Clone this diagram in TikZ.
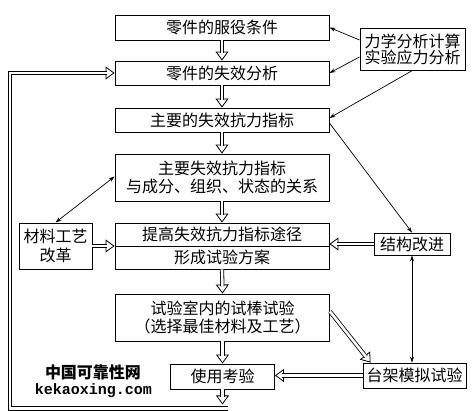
\documentclass[tikz,border=0pt]{standalone}
\usepackage{fontspec}
\newfontfamily\cjk{Noto Sans CJK SC}
\newfontfamily\wmmono{Liberation Mono}
\usetikzlibrary{arrows.meta,calc}
\newcommand\harrow[2]{%
  \draw[hhead] ($(#2)!9pt!(#1)$) -- (#2);
  \draw[hshaft] (#1) -- ($(#2)!7.5pt!(#1)$);
}
\begin{document}
\begin{tikzpicture}[x=1pt,y=-1pt,
  box/.style={draw, line width=0.9pt, inner sep=0pt, align=center,
    font=\cjk\fontsize{16}{18}\selectfont},
  txt/.style={inner sep=0pt, font=\cjk\fontsize{16}{18}\selectfont},
  thin/.style={line width=0.7pt, -{Stealth[length=6pt,width=4pt]}},
  thinboth/.style={line width=0.7pt, {Stealth[length=6pt,width=4pt]}-{Stealth[length=6pt,width=4pt]}},
  hshaft/.style={double, double distance=2.6pt, line width=0.8pt},
  hhead/.style={line width=0.8pt, -{Triangle[fill=white,length=9pt,width=13pt]}},
]
\useasboundingbox (0,0) rectangle (474,411);

% main column
\node[box, minimum width=214pt, minimum height=25pt] (b1) at (222,27.5) {零件的服役条件};
\node[box, minimum width=214pt, minimum height=24pt] (b2) at (222,73) {零件的失效分析};
\node[box, minimum width=214pt, minimum height=24pt] (b3) at (222,120) {主要的失效抗力指标};
\node[box, minimum width=214pt, minimum height=47pt] (b4) at (222,177.5) {主要失效抗力指标\\与成分、组织、状态的关系};
\node[box, minimum width=214pt, minimum height=46pt] (b5) at (222,246) {};
\draw[line width=0.9pt] (b5.west) -- (b5.east);
\node[txt] (b5a) at ($(b5.north)!0.25!(b5.south)$) {提高失效抗力指标途径};
\node[txt] (b5b) at ($(b5.north)!0.75!(b5.south)$) {形成试验方案};
\node[box, minimum width=214pt, minimum height=47pt] (b6) at (222.5,317.5) {试验室内的试棒试验\\（选择最佳材料及工艺）};
\node[box, minimum width=104pt, minimum height=25pt] (b7) at (222.5,376.5) {使用考验};

% side boxes
\node[box, minimum width=73pt, minimum height=46pt, font=\cjk\fontsize{16}{19}\selectfont] (m) at (55.5,246) {材料工艺\\改革};
\node[box, minimum width=105pt, minimum height=42pt, font=\cjk\fontsize{16}{16}\selectfont] (R1) at (412.5,49) {力学分析计算\\实验应力分析};
\node[box, minimum width=76pt, minimum height=22pt] (R2) at (412,244) {结构改进};
\node[box, minimum width=103pt, minimum height=25pt] (R3) at (414.5,375.5) {台架模拟试验};

% watermark text
\node[inner sep=0pt, font=\cjk\bfseries\fontsize{16}{18}\selectfont] (wm1) at (93,372) {中国可靠性网};
\node[inner sep=0pt, font=\wmmono\bfseries\fontsize{15}{18}\selectfont] (wm2) at (93.5,391) {kekaoxing.com};

% hollow arrows down the column
\harrow{b1.south}{b2.north}
\harrow{b2.south}{b3.north}
\harrow{b3.south}{b4.north}
\harrow{b4.south}{b5.north}
\harrow{b5.south}{b6.north}
\harrow{b6.south}{b7.north}
\coordinate (bt) at (222.5,404.5);
\harrow{b7.south}{bt}

% feedback loop
\coordinate (L0) at (228,408.5);
\coordinate (L1) at (10,408.5);
\coordinate (L2) at (10,73);
\draw[hhead] ($(b2.west)+(-9,0)$) -- (b2.west);
\draw[hshaft] (L0) -- (L1) -- (L2) -- ($(b2.west)+(-7.5,0)$);

% side hollow arrows
\harrow{m.east}{m.east -| b5.west}
\harrow{R2.west}{R2.west -| b5.east}
\harrow{$(b6.east)+(0,-6)$}{$(R3.north west)+(8,0)$}
\harrow{R3.west}{R3.west -| b7.east}

% thin arrows
\draw[thin] ($(R1.west)+(0,-9)$) -- (b1.east);
\draw[thin] ($(R1.west)+(0,8)$) -- (b2.east);
\draw[thin] (R1.south) -- ($(b3.east)+(0,-2)$);
\draw[thin] ($(b3.east)+(0,3)$) -- (R2.north);
\draw[thinboth] ($(b4.west)+(0,-1)$) -- (m.north);
\draw[thinboth] (R2.south) -- (R2.south |- R3.north);
\end{tikzpicture}
\end{document}
